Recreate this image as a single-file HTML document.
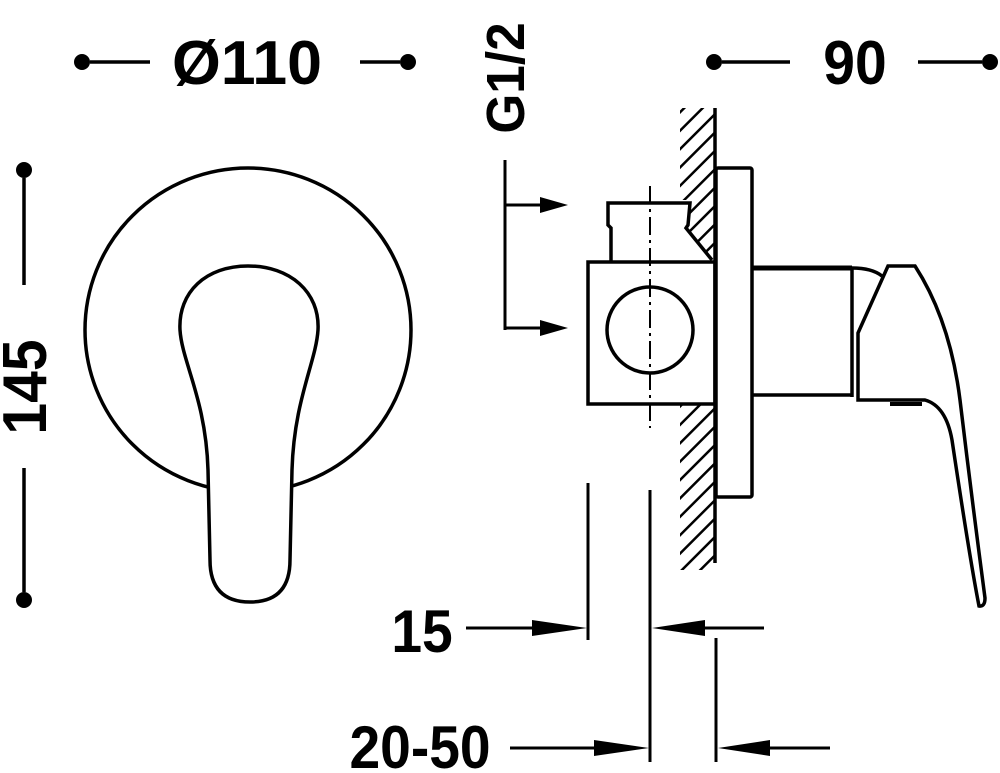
<!DOCTYPE html>
<html><head><style>html,body{margin:0;padding:0;background:#fff}svg{display:block}</style></head>
<body>
<svg width="1000" height="773" viewBox="0 0 1000 773" xmlns="http://www.w3.org/2000/svg">
<defs>
<pattern id="h" patternUnits="userSpaceOnUse" width="13" height="13" patternTransform="rotate(-45)">
<rect width="13" height="2.5" y="0" fill="#000"/></pattern>
</defs>
<g font-family="Liberation Sans, sans-serif" font-weight="bold" fill="#000">
<text x="247" y="84" font-size="62" text-anchor="middle" textLength="150" lengthAdjust="spacingAndGlyphs">Ø110</text>
<text transform="translate(855,84) scale(0.92,1)" font-size="62" text-anchor="middle">90</text>
<text transform="translate(46,387) rotate(-90) scale(0.92,1)" font-size="62" text-anchor="middle">145</text>
<text transform="translate(524,78) rotate(-90) scale(0.95,1)" font-size="54" text-anchor="middle">G1/2</text>
<text transform="translate(422,652) scale(0.92,1)" font-size="60" text-anchor="middle">15</text>
<text transform="translate(420,768) scale(0.92,1)" font-size="60" text-anchor="middle">20-50</text>
</g>
<g fill="#000">
<circle cx="82" cy="62" r="8"/><circle cx="408" cy="62" r="8"/>
<circle cx="714" cy="62" r="8"/><circle cx="990" cy="62" r="8"/>
<circle cx="24" cy="170" r="8"/><circle cx="24" cy="600" r="8"/>
</g>
<g stroke="#000" stroke-width="3.5" fill="none">
<line x1="90" y1="62" x2="150" y2="62"/><line x1="360" y1="62" x2="400" y2="62"/>
<line x1="722" y1="62" x2="790" y2="62"/><line x1="918" y1="62" x2="982" y2="62"/>
<line x1="24" y1="178" x2="24" y2="285"/><line x1="24" y1="468" x2="24" y2="592"/>
<ellipse cx="248" cy="330" rx="163" ry="162"/>
<path d="M248 266 C290 266 320 292 318 330 C316 362 294 400 292 470 L290 560 Q290 602 250 602 Q210 602 210 560 L208 470 C206 400 182 362 180 330 C178 292 206 266 248 266 Z" fill="#fff"/>
<line x1="505" y1="160" x2="505" y2="330" stroke-width="3"/>
<line x1="505" y1="205" x2="540" y2="205" stroke-width="3"/><line x1="505" y1="328" x2="540" y2="328" stroke-width="3"/>
<rect x="680" y="108" width="34" height="462" fill="url(#h)" stroke="none"/>
<rect x="588" y="262" width="126" height="142" fill="#fff" stroke="none"/>
<rect x="600" y="200" width="88" height="62" fill="#fff" stroke="none"/>
<polygon points="688,228 713,262 688,262" fill="#fff" stroke="none"/>
<line x1="715" y1="108" x2="715" y2="563"/>
<rect x="588" y="262" width="127" height="142"/>
<path d="M611 261 L611 228 L608 225 L608 203 L690 203 L688 225 L686 228 L712 260"/>
<circle cx="650" cy="330" r="43"/>
<line x1="650" y1="186" x2="650" y2="428" stroke-width="2" stroke-dasharray="18,5,3,5"/>
<rect x="716" y="168" width="36" height="329" rx="2"/>
<line x1="752" y1="268" x2="852" y2="268" stroke-width="5"/>
<line x1="752" y1="395" x2="852" y2="395"/>
<line x1="852" y1="268" x2="852" y2="397"/>
<path d="M852 268 Q872 268 882 276"/>
<path d="M858 400 L858 333 L888 266 L915 266 Q950 320 960 400 Q972 500 985 598 Q985 607 979 606 Q970 560 952 440 Q946 406 925 400 Z" fill="#fff"/>
<line x1="890" y1="404" x2="922" y2="404" stroke-width="4"/>
<line x1="588" y1="483" x2="588" y2="640" stroke-width="3"/>
<line x1="650" y1="490" x2="650" y2="762" stroke-width="3"/>
<line x1="716" y1="638" x2="716" y2="762" stroke-width="3"/>
<line x1="466" y1="628" x2="560" y2="628" stroke-width="3"/>
<line x1="676" y1="628" x2="764" y2="628" stroke-width="3"/>
<line x1="510" y1="748" x2="622" y2="748" stroke-width="3"/>
<line x1="744" y1="748" x2="830" y2="748" stroke-width="3"/>
</g>
<g fill="#000">
<polygon points="540,197 568,205 540,213"/>
<polygon points="540,320 568,328 540,336"/>
<polygon points="532,620 587,628 532,636"/>
<polygon points="705,620 652,628 705,636"/>
<polygon points="594,740 649,748 594,756"/>
<polygon points="770,740 718,748 770,756"/>
</g>
</svg>
</body></html>
